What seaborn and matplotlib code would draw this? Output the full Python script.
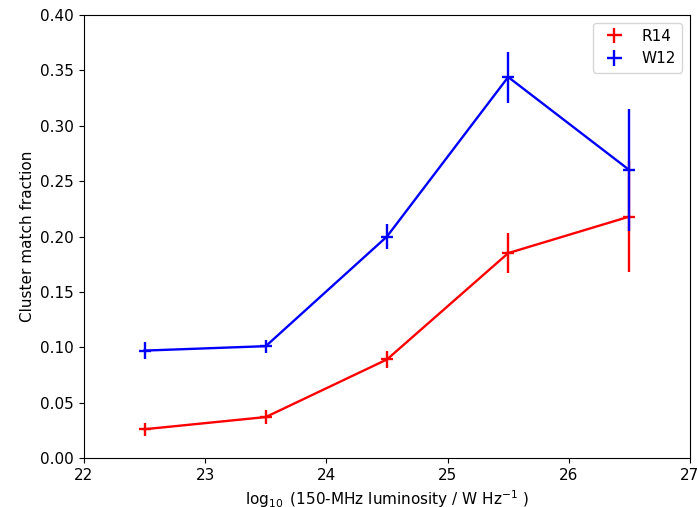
import matplotlib
matplotlib.use("Agg")
import matplotlib.pyplot as plt
import seaborn as sns
import pandas as pd
import numpy as np

x_bins = [22.5, 23.5, 24.5, 25.5, 26.5]
r14_frac = [0.026, 0.037, 0.089, 0.185, 0.218]
r14_err = [0.006, 0.006, 0.008, 0.018, 0.050]
w12_frac = [0.097, 0.101, 0.200, 0.344, 0.260]
w12_err = [0.008, 0.006, 0.011, 0.023, 0.055]
x_halfwidth = 0.05

plt.rcParams["font.size"] = 11

fig, ax = plt.subplots(figsize=(6.98, 5.07), dpi=100)
fig.subplots_adjust(left=0.1203, right=0.9885, top=0.9704, bottom=0.0966)

df = pd.DataFrame({
    "x": x_bins * 2,
    "y": r14_frac + w12_frac,
    "cat": ["R14"] * len(x_bins) + ["W12"] * len(x_bins),
})
sns.lineplot(data=df, x="x", y="y", hue="cat", palette={"R14": "red", "W12": "blue"},
             ax=ax, legend=False, linewidth=1.7)

ax.errorbar(x_bins, r14_frac, yerr=r14_err, xerr=x_halfwidth, fmt="none",
            ecolor="red", elinewidth=1.7, label="R14")
ax.errorbar(x_bins, w12_frac, yerr=w12_err, xerr=x_halfwidth, fmt="none",
            ecolor="blue", elinewidth=1.7, label="W12")

ax.set_xlim(22, 27)
ax.set_ylim(0, 0.40)
ax.set_xlabel(r"$\log_{10}$ (150-MHz luminosity / W Hz$^{-1}$ )")
ax.set_ylabel("Cluster match fraction")
ax.legend(loc="upper right")

fig.savefig("out.png", dpi=100)
